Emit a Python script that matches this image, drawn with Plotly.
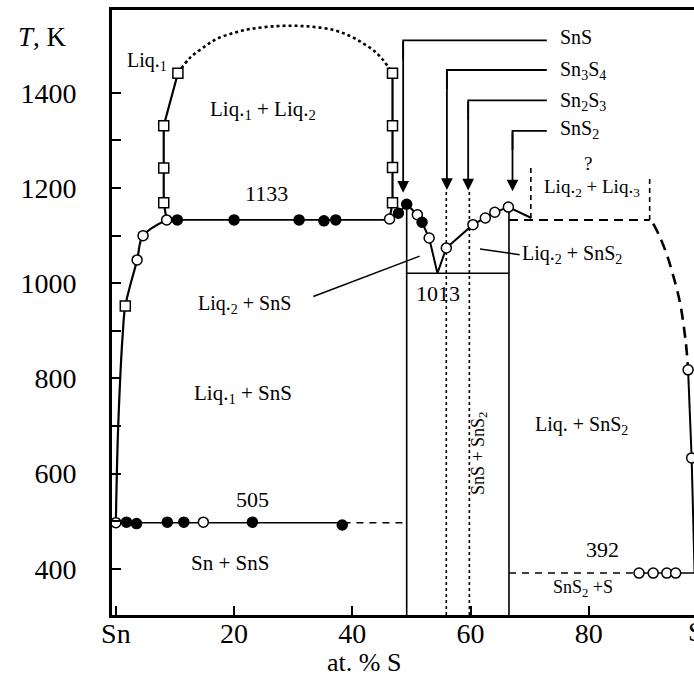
import plotly.graph_objects as go

# ---------------- data (at.% S, T in K) ----------------
liq1_x = [0, 0.4, 1.2, 1.6, 3.6, 4.6, 8.6]
liq1_t = [497, 700, 900, 952, 1049, 1100, 1133]
liq1_sq_x = [1.6]
liq1_sq_t = [952]
liq1_oc_x = [0, 3.6, 4.6, 8.6]
liq1_oc_t = [497, 1049, 1100, 1133]

left_gap_x = [8.6, 8.1, 8.1, 8.1, 10.5]
left_gap_t = [1133, 1169, 1242, 1331, 1441]
dome_x = [10.5, 12.5, 15.0, 17.0, 20.0, 22.7, 26.0, 29.4, 33.0, 36.8, 39.5, 41.8, 43.7, 45.2, 46.8]
dome_t = [1441, 1473, 1497, 1513, 1526, 1534, 1539, 1541, 1539, 1532, 1520, 1504, 1488, 1469, 1441]
right_gap_x = [46.8, 46.8, 46.8, 46.8, 46.3]
right_gap_t = [1441, 1331, 1243, 1169, 1135]

mono_x = [8.6, 46.3]
mono_t = [1133, 1133]
mono_fc_x = [10.4, 20.0, 31.0, 35.2, 37.2]
mono_fc_t = [1133, 1133, 1133, 1131, 1133]

liq2_x = [46.3, 47.8, 49.2, 51.0, 51.8, 53.0, 54.4, 55.9, 60.4, 62.5, 64.1, 66.4, 70.3]
liq2_t = [1135, 1147, 1166, 1144, 1128, 1095, 1021, 1074, 1123, 1137, 1149, 1160, 1137]
liq2_oc_x = [51.0, 53.0, 55.9, 60.4, 62.5, 64.1, 66.4]
liq2_oc_t = [1144, 1095, 1074, 1123, 1137, 1149, 1160]
liq2_fc_x = [47.8, 49.2, 51.8]
liq2_fc_t = [1147, 1166, 1128]

eut_x = [49.2, 66.5]
eut_t = [1021, 1021]

sns_x = [49.2, 49.2]
sns_t = [303, 1166]
sns2_x = [66.5, 66.5]
sns2_t = [303, 1150]
sn3s4_x = [55.9, 55.9]
sn3s4_t = [303, 1196]
sn2s3_x = [59.8, 59.8]
sn2s3_t = [303, 1196]

box_bottom_x = [66.5, 90.3]
box_bottom_t = [1133, 1133]
box_left_x = [70.2, 70.2]
box_left_t = [1137, 1242]
box_right_x = [90.3, 90.3]
box_right_t = [1133, 1224]

liq3_dash_x = [90.9, 92.0, 93.2, 94.1, 95.4, 96.4, 96.8]
liq3_dash_t = [1125, 1098, 1060, 1024, 961, 877, 818]
liq3_x = [96.8, 97.4, 97.9]
liq3_t = [818, 633, 391]
liq3_oc_x = [96.8, 97.4]
liq3_oc_t = [818, 633]

eut505_x = [0, 38.5]
eut505_t = [497, 497]
eut505_dash_x = [38.5, 49.2]
eut505_dash_t = [497, 497]
eut505_fc_x = [1.8, 3.5, 8.7, 11.5, 23.1, 38.3]
eut505_fc_t = [498, 495, 498, 498, 498, 492]
eut505_oc_x = [14.8]
eut505_oc_t = [498]

eut392_dash_x = [66.5, 88.0]
eut392_dash_t = [391, 391]
eut392_x = [88.0, 97.9]
eut392_t = [391, 391]
eut392_oc_x = [88.5, 90.9, 93.2, 94.7]
eut392_oc_t = [391, 391, 391, 391]

lead1_x = [33.4, 51.4]
lead1_t = [972, 1057]
lead2_x = [61.6, 68.3]
lead2_t = [1072, 1060]

comp_names = ["SnS", "Sn<sub>3</sub>S<sub>4</sub>", "Sn<sub>2</sub>S<sub>3</sub>", "SnS<sub>2</sub>"]
comp_x = [48.6, 56.0, 59.6, 67.1]
comp_line_t = [1510, 1448, 1384, 1320]
comp_tip_t = [1190, 1196, 1195, 1193]
comp_label_t = [1518, 1446, 1381, 1322]
comp_line_end = 72.9
comp_label_x = 74.8

x_tickvals = [0, 20, 40, 60, 80]
x_ticktext = ["Sn", "20", "40", "60", "80"]
y_tickvals = [400, 500, 600, 700, 800, 900, 1000, 1100, 1200, 1300, 1400]
y_ticktext = ["400", "", "600", "", "800", "", "1000", "", "1200", "", "1400"]

FONT = "Liberation Serif, Times New Roman, serif"

fig = go.Figure()


def line(x, y, width=1.6, dash="solid", shape="linear"):
    fig.add_trace(go.Scatter(x=x, y=y, mode="lines",
                             line=dict(color="black", width=width, dash=dash, shape=shape),
                             hoverinfo="skip", showlegend=False, cliponaxis=True))


def marks(x, y, symbol="circle", filled=False, size=10):
    fig.add_trace(go.Scatter(x=x, y=y, mode="markers",
                             marker=dict(symbol=symbol, size=size,
                                         color="black" if filled else "white",
                                         line=dict(color="black", width=1.5)),
                             hoverinfo="skip", showlegend=False, cliponaxis=False))


# lines
line(liq1_x, liq1_t, 2.2, shape="spline")
line(left_gap_x, left_gap_t, 2.2)
line(dome_x, dome_t, 2.6, "dot", shape="spline")
line(right_gap_x, right_gap_t, 2.2)
line(mono_x, mono_t, 1.6)
line(liq2_x, liq2_t, 2.0)
line(eut_x, eut_t, 1.4)
line(sns_x, sns_t, 1.6)
line(sns2_x, sns2_t, 1.6)
line(sn3s4_x, sn3s4_t, 1.6, "3px,3px")
line(sn2s3_x, sn2s3_t, 1.6, "3px,3px")
line(box_bottom_x, box_bottom_t, 2.0, "9px,6px")
line(box_left_x, box_left_t, 1.6, "5px,4px")
line(box_right_x, box_right_t, 1.6, "5px,4px")
line(liq3_dash_x, liq3_dash_t, 2.6, "11px,7px", shape="spline")
line(liq3_x, liq3_t, 2.0)
line(eut505_x, eut505_t, 1.5)
line(eut505_dash_x, eut505_dash_t, 1.5, "7px,6px")
line(eut392_dash_x, eut392_dash_t, 1.5, "7px,6px")
line(eut392_x, eut392_t, 1.5)
line(lead1_x, lead1_t, 1.5)
line(lead2_x, lead2_t, 1.5)

for cx, lt in zip(comp_x, comp_line_t):
    line([comp_line_end, cx, cx], [lt, lt, lt - 40], 1.8)

# markers
marks(liq1_oc_x, liq1_oc_t)
marks(liq1_sq_x, liq1_sq_t, "square")
marks(left_gap_x[1:], left_gap_t[1:], "square")
marks(right_gap_x[:4], right_gap_t[:4], "square")
marks([right_gap_x[4]], [right_gap_t[4]])
marks(mono_fc_x, mono_fc_t, filled=True)
marks(liq2_oc_x, liq2_oc_t)
marks(liq2_fc_x, liq2_fc_t, filled=True)
marks(liq3_oc_x, liq3_oc_t)
marks(eut505_fc_x, eut505_fc_t, filled=True)
marks(eut505_oc_x, eut505_oc_t)
marks(eut392_oc_x, eut392_oc_t)

ann = []
for cx, lt, tt in zip(comp_x, comp_line_t, comp_tip_t):
    ann.append(dict(x=cx, y=tt, ax=cx, ay=lt, xref="x", yref="y", axref="x", ayref="y",
                    text="", showarrow=True, arrowhead=2, arrowsize=1.3, arrowwidth=1.8,
                    arrowcolor="black"))
for name, lt in zip(comp_names, comp_label_t):
    ann.append(dict(x=comp_label_x, y=lt, xref="x", yref="y", text=name, showarrow=False,
                    xanchor="left", yanchor="middle", font=dict(size=20)))


def txt(x, y, s, size=20, xanchor="center", angle=0):
    ann.append(dict(x=x, y=y, xref="x", yref="y", text=s, showarrow=False, xanchor=xanchor,
                    yanchor="middle", textangle=angle, font=dict(size=size)))


txt(5.2, 1466, "Liq.<sub>1</sub>", 20)
txt(24.9, 1364, "Liq.<sub>1</sub> + Liq.<sub>2</sub>", 21)
txt(25.5, 1189, "1133", 22)
txt(21.8, 955, "Liq.<sub>2</sub> + SnS", 20)
txt(21.5, 768, "Liq.<sub>1</sub> + SnS", 21)
txt(23.1, 546, "505", 22)
txt(19.3, 413, "Sn + SnS", 21)
txt(54.5, 979, "1013", 22)
txt(68.4, 1060, "Liq.<sub>2</sub> + SnS<sub>2</sub>", 20, "left")
txt(79.9, 1252, "?", 19)
txt(80.5, 1200, "Liq.<sub>2</sub> + Liq.<sub>3</sub>", 19)
txt(78.7, 702, "Liq. + SnS<sub>2</sub>", 20)
txt(61.5, 644, "SnS + SnS<sub>2</sub>", 18, angle=-90)
txt(82.3, 441, "392", 22)
txt(79.1, 359, "SnS<sub>2</sub> +S", 18)

# axis captions
ann.append(dict(x=-0.1186, y=0.956, xref="paper", yref="paper", text="<i>T</i>, K",
                showarrow=False, font=dict(size=27), xanchor="center", yanchor="middle"))
ann.append(dict(x=0.433, y=-0.079, xref="paper", yref="paper", text="at. % S",
                showarrow=False, font=dict(size=26), xanchor="center", yanchor="middle"))
ann.append(dict(x=1.0034, y=-0.028, xref="paper", yref="paper", text="S",
                showarrow=False, font=dict(size=28), xanchor="center", yanchor="middle"))

fig.update_layout(
    annotations=ann,
    width=694, height=677,
    margin=dict(l=112, r=0, t=10, b=62),
    paper_bgcolor="white", plot_bgcolor="white",
    font=dict(family=FONT, color="black", size=18),
    showlegend=False,
    xaxis=dict(range=[-0.65, 97.8], tickvals=x_tickvals, ticktext=x_ticktext,
               ticks="inside", ticklen=9, tickwidth=2, tickcolor="black",
               showline=True, linewidth=3, linecolor="black", mirror=True,
               showgrid=False, zeroline=False, tickfont=dict(size=28),
               ticklabelstandoff=-9, automargin=False),
    yaxis=dict(range=[303, 1574], tickvals=y_tickvals, ticktext=y_ticktext,
               ticks="inside", ticklen=9, tickwidth=2, tickcolor="black",
               showline=True, linewidth=3, linecolor="black",
               showgrid=False, zeroline=False, tickfont=dict(size=28),
               ticklabelstandoff=27, automargin=False),
)

fig.write_html("out.html", config={"displayModeBar": False},
               post_script="document.body.style.margin='0px';")
